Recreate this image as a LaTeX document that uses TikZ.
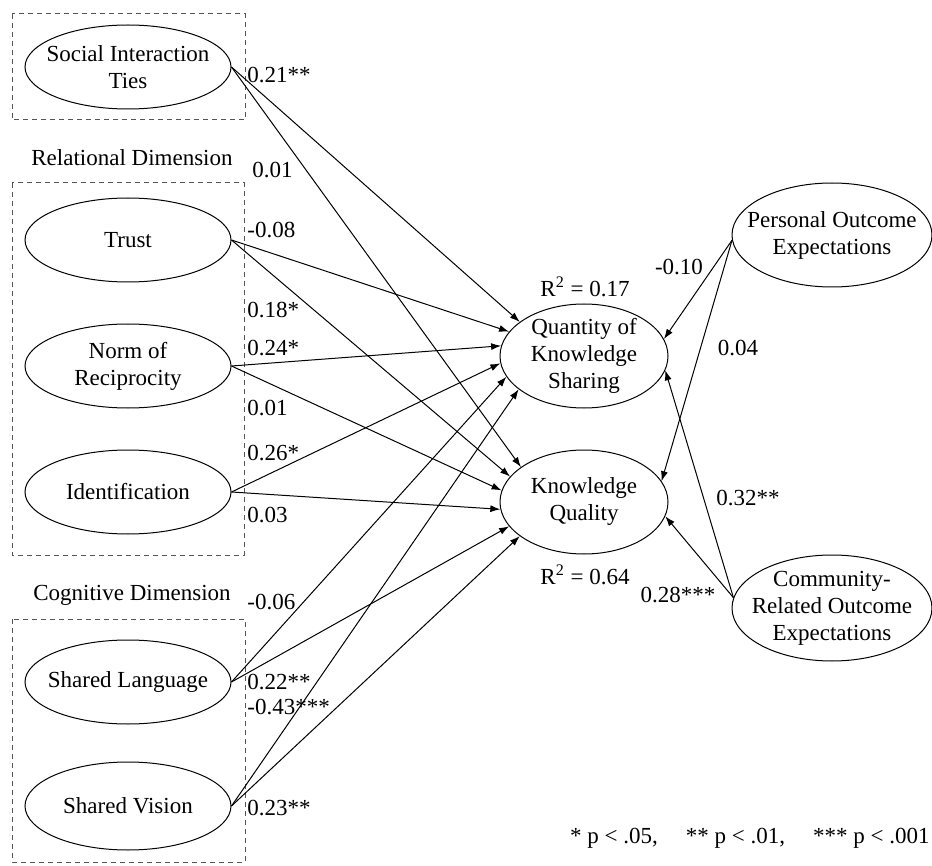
\documentclass[tikz,border=0pt]{standalone}
\usepackage{fontspec}
\setmainfont{Liberation Serif}
\usetikzlibrary{shapes.geometric,arrows.meta}
\definecolor{boxgray}{RGB}{85,85,85}

\begin{document}
\begin{tikzpicture}[x=0.5pt,y=-0.5pt,
        font=\fontsize{11.5}{13.5}\selectfont,
        construct/.style={draw, ellipse, inner sep=0pt, line width=0.5pt},
        lbltxt/.style={align=center, inner sep=0pt},
        effect/.style={line width=0.5pt, -{Latex[length=5pt,width=3.5pt]}},
        coef/.style={anchor=west, inner sep=0pt},
        dimbox/.style={draw=boxgray, dash pattern=on 2.5pt off 2pt, line width=0.5pt}]
        \useasboundingbox (0,0) rectangle (932,866);
        % dimension boxes
        \draw[dimbox] (12,14) rectangle (245,120);
        \draw[dimbox] (12,183) rectangle (244,555);
        \draw[dimbox] (12,619) rectangle (245,862);
        \node (reldim) at (132,158) {Relational Dimension};
        \node (cogdim) at (132,595) {Cognitive Dimension};
        % constructs
        \node[construct, minimum width=103pt, minimum height=42pt, label={[lbltxt]center:Social Interaction\\Ties}] (soc) at (128,67) {};
        \node[construct, minimum width=103pt, minimum height=42pt, label={[lbltxt]center:Trust}] (tru) at (128,240) {};
        \node[construct, minimum width=103pt, minimum height=42pt, label={[lbltxt]center:Norm of\\Reciprocity}] (nor) at (128,366) {};
        \node[construct, minimum width=103pt, minimum height=42pt, label={[lbltxt]center:Identification}] (ide) at (128,492) {};
        \node[construct, minimum width=103pt, minimum height=42pt, label={[lbltxt]center:Shared Language}] (sla) at (128,682) {};
        \node[construct, minimum width=103pt, minimum height=44pt, label={[lbltxt]center:Shared Vision}] (svi) at (128,806) {};
        \node[construct, minimum width=84pt, minimum height=52pt, label={[lbltxt]center:Quantity of\\Knowledge\\Sharing}] (qks) at (584,356) {};
        \node[construct, minimum width=84pt, minimum height=52pt, label={[lbltxt]center:Knowledge\\Quality}] (kq) at (584,502) {};
        \node[construct, minimum width=100pt, minimum height=52pt, label={[lbltxt]center:Personal Outcome\\Expectations}] (poe) at (832,235) {};
        \node[construct, minimum width=100pt, minimum height=53pt, label={[lbltxt]center:Community-\\Related Outcome\\Expectations}] (cre) at (832,608) {};
        % paths
        \foreach \s/\a/\b in {soc/152/151, tru/162/161, nor/173/172, ide/185/185, sla/195/198, svi/207/208}{
            \draw[effect] (\s.east) -- (qks.\a);
            \draw[effect] (\s.east) -- (kq.\b);
        }
        \draw[effect] (poe.183) -- (qks.12);
        \draw[effect] (poe.183) -- (kq.15);
        \draw[effect] (cre.174) -- (qks.-10);
        \draw[effect] (cre.174) -- (kq.-10);
        % coefficients
        \node[coef] (c1) at (247,75) {0.21**};
        \node[coef] (c2) at (252,170) {0.01};
        \node[coef] (c3) at (247,230) {-0.08};
        \node[coef] (c4) at (247,310) {0.18*};
        \node[coef] (c5) at (247,348) {0.24*};
        \node[coef] (c6) at (247,408) {0.01};
        \node[coef] (c7) at (247,453) {0.26*};
        \node[coef] (c8) at (247,515) {0.03};
        \node[coef] (c9) at (247,602) {-0.06};
        \node[coef] (c10) at (247,682) {0.22**};
        \node[coef] (c11) at (247,707) {-0.43***};
        \node[coef] (c12) at (247,808) {0.23**};
        \node (c13) at (679,267) {-0.10};
        \node (c14) at (738,348) {0.04};
        \node (c15) at (748,498) {0.32**};
        \node (c16) at (678,595) {0.28***};
        \node (r1) at (585,287) {R\textsuperscript{2} = 0.17};
        \node (r2) at (585,575) {R\textsuperscript{2} = 0.64};
        \node[anchor=east, inner sep=0pt] (note) at (930,838) {* p < .05,\hspace{14pt}** p < .01,\hspace{14pt}*** p < .001};
\end{tikzpicture}
\end{document}
